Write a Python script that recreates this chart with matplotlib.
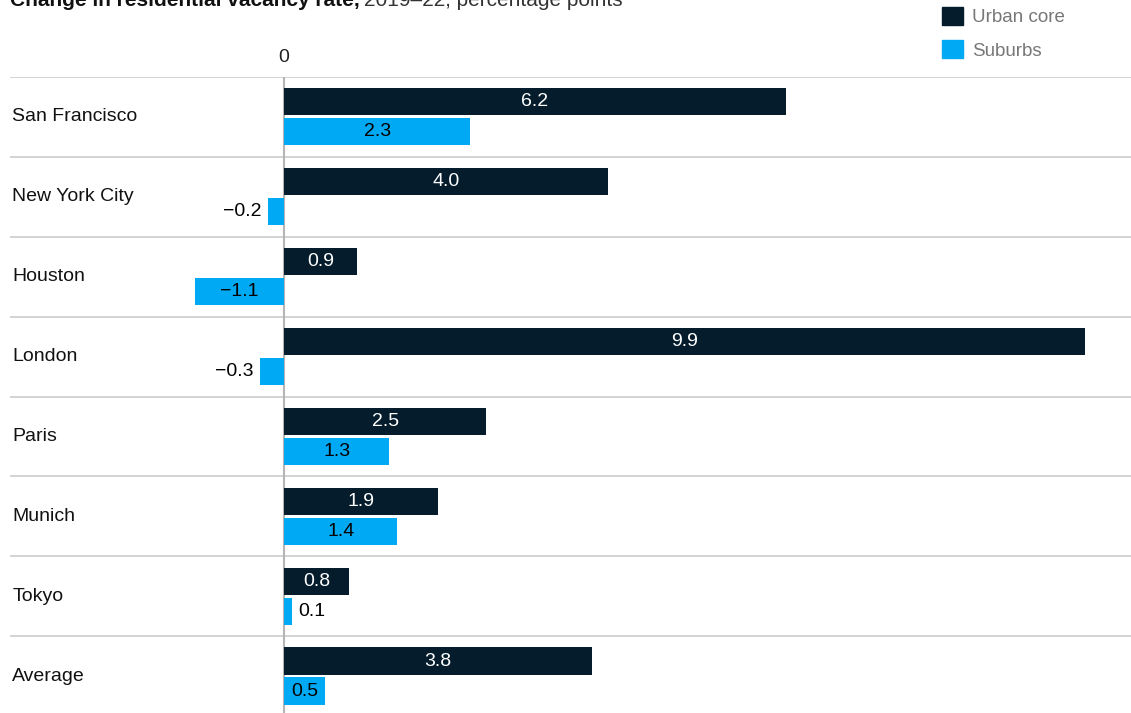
import matplotlib.pyplot as plt
from matplotlib.patches import Patch

# Data
CITIES = ['San Francisco', 'New York City', 'Houston', 'London',
          'Paris', 'Munich', 'Tokyo', 'Average']
URBAN_CORE = [6.2, 4.0, 0.9, 9.9, 2.5, 1.9, 0.8, 3.8]
SUBURBS = [2.3, -0.2, -1.1, -0.3, 1.3, 1.4, 0.1, 0.5]

# Style
DARK = '#051c2c'
LIGHT = '#00a9f4'
GRID = '#cccccc'
FONT = 'Liberation Sans'

plt.rcParams['font.family'] = [FONT, 'DejaVu Sans']

fig = plt.figure(figsize=(11.31, 7.13), dpi=100)
ax = fig.add_axes([10 / 1131, 0, 1 - 10 / 1131, 1 - 77 / 713])

bar_h = 0.34
off_dark = -0.19
off_light = 0.185

for i, (city, u, s) in enumerate(zip(CITIES, URBAN_CORE, SUBURBS)):
    ax.barh(i + off_dark, u, height=bar_h, color=DARK, zorder=2)
    ax.barh(i + off_light, s, height=bar_h, color=LIGHT, zorder=2)

    for v, yy, inside_col in [(u, i + off_dark, 'white'), (s, i + off_light, 'black')]:
        txt = f'{abs(v):.1f}'
        if v < 0:
            txt = '\u2212' + txt
        if abs(v) >= 0.4:
            ax.text(v / 2, yy, txt, ha='center', va='center', color=inside_col,
                    fontsize=14, zorder=3)
        elif v < 0:
            ax.text(v - 0.08, yy, txt, ha='right', va='center', color='black',
                    fontsize=14, zorder=3)
        else:
            ax.text(v + 0.08, yy, txt, ha='left', va='center', color='black',
                    fontsize=14, zorder=3)

    ax.text(-3.36, i, city, ha='left', va='center', color='#111111', fontsize=14)

# row separators
for b in range(len(CITIES)):
    ax.axhline(b - 0.5, color=GRID, lw=1.2, zorder=1)
ax.axvline(0, color='#b5b5b5', lw=1.5, zorder=1)

ax.set_xlim(-3.39, 10.47)
ax.set_ylim(7.46, -0.5)

for sp in ax.spines.values():
    sp.set_visible(False)
ax.set_yticks([])
ax.xaxis.tick_top()
ax.set_xticks([0])
ax.set_xticklabels(['0'])
ax.tick_params(axis='x', length=0, pad=8, labelsize=14, labelcolor='#222222')

# legend
handles = [Patch(color=DARK, label='Urban core'), Patch(color=LIGHT, label='Suburbs')]
fig.legend(handles=handles, loc='upper left', bbox_to_anchor=(925 / 1131, 1.014),
           frameon=False, fontsize=13.5, labelcolor='#777777',
           handlelength=1.1, handleheight=1.1, handletextpad=0.5, labelspacing=0.75)

# title (cut off at top as in reference)
fig.canvas.draw()
r = fig.canvas.get_renderer()
t1 = fig.text(10 / 1131, 1 - 6 / 713, 'Change in residential vacancy rate,',
              fontsize=15, fontweight='bold', color='#111111', va='baseline')
bb = t1.get_window_extent(renderer=r)
fig.text(bb.x1 / fig.bbox.width + 0.004, 1 - 6 / 713, '2019\u201322, percentage points',
         fontsize=15, color='#333333', va='baseline')

fig.savefig('out.png', dpi=100)
